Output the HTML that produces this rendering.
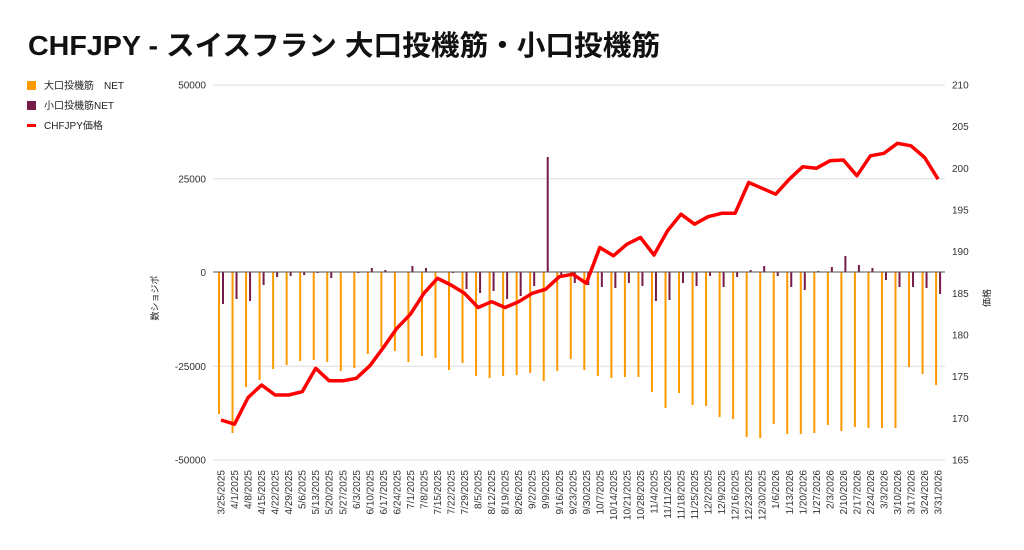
<!DOCTYPE html>
<html><head><meta charset="utf-8"><style>
body{margin:0;background:#fff;width:1024px;height:545px;overflow:hidden;font-family:"Liberation Sans","Noto Sans CJK JP",sans-serif}
</style></head><body>
<svg id="s" width="1024" height="545" xmlns="http://www.w3.org/2000/svg" font-family="Liberation Sans, Noto Sans CJK JP, sans-serif">
<text x="28" y="55" font-size="28" font-weight="bold" fill="#111" textLength="632" lengthAdjust="spacingAndGlyphs">CHFJPY - スイスフラン 大口投機筋・小口投機筋</text>
<rect x="27" y="81" width="9" height="9" fill="#ff9900"/><text x="44" y="89" font-size="10" fill="#222">大口投機筋　NET</text>
<rect x="27" y="101" width="9" height="9" fill="#741b47"/><text x="44" y="109" font-size="10" fill="#222">小口投機筋NET</text>
<rect x="27" y="124" width="9" height="3" fill="#ff0000"/><text x="44" y="129" font-size="10" fill="#222">CHFJPY価格</text>
<text transform="translate(158,298) rotate(-90)" font-size="9" fill="#222" text-anchor="middle">数ショジポ</text>
<text transform="translate(990,298) rotate(-90)" font-size="9" fill="#222" text-anchor="middle">価格</text>
</svg>
<script>
var s=document.getElementById('s'),NS='http://www.w3.org/2000/svg';
function el(t,a,txt){var e=document.createElementNS(NS,t);for(var k in a)e.setAttribute(k,a[k]);if(txt!=null)e.textContent=txt;s.appendChild(e);return e;}
var L=[50000,25000,0,-25000,-50000],R=[210,205,200,195,190,185,180,175,170,165];
L.forEach(function(v,i){var y=85+i*93.75;if(v!==0)el('line',{x1:213,x2:945,y1:y,y2:y,stroke:'#ddd','stroke-width':1});el('text',{x:206,y:y+3.5,'font-size':10,'text-anchor':'end',fill:'#333'},v);});
R.forEach(function(v,i){el('text',{x:952,y:85+i*41.67+3.5,'font-size':10,fill:'#333'},v);});
var d=['3/25/2025','4/1/2025','4/8/2025','4/15/2025','4/22/2025','4/29/2025','5/6/2025','5/13/2025','5/20/2025','5/27/2025','6/3/2025','6/10/2025','6/17/2025','6/24/2025','7/1/2025','7/8/2025','7/15/2025','7/22/2025','7/29/2025','8/5/2025','8/12/2025','8/19/2025','8/26/2025','9/2/2025','9/9/2025','9/16/2025','9/23/2025','9/30/2025','10/7/2025','10/14/2025','10/21/2025','10/28/2025','11/4/2025','11/11/2025','11/18/2025','11/25/2025','12/2/2025','12/9/2025','12/16/2025','12/23/2025','12/30/2025','1/6/2026','1/13/2026','1/20/2026','1/27/2026','2/3/2026','2/10/2026','2/17/2026','2/24/2026','3/3/2026','3/10/2026','3/17/2026','3/24/2026','3/31/2026'];
var o=[414,433,387,380,369,365,361,360,362,371,368,354,347,351,362,356,358,370,363,376,378,376,375,373,381,371,359,370,376,378,377,377,392,408,393,405,406,417,419,437,438,424,434,434,433,425,431,427,428,428,428,367,374,385];
var p=[304,299,301,285,277,276,275,273,278,272,273,268,270,272,266,268,272,273,289,293,291,299,296,286,157,276,283,285,287,288,283,286,301,300,283,286,276,287,277,270,266,276,287,290,271,267,256,265,268,280,287,287,288,294];
var pr=[169.8,169.3,172.5,174,172.8,172.8,173.2,176,174.5,174.5,174.8,176.3,178.5,180.8,182.5,185,186.8,186,185,183.3,184,183.3,184,185,185.5,187,187.3,186.2,190.5,189.5,190.9,191.7,189.6,192.5,194.5,193.3,194.2,194.6,194.6,198.3,197.6,196.9,198.7,200.2,200,200.9,201,199.1,201.5,201.8,203,202.7,201.3,198.7];
var pts=[];
for(var i=0;i<54;i++){var x=221+i*13.53;
el('line',{x1:x-2,x2:x-2,y1:272,y2:o[i],stroke:'#ff9900','stroke-width':2});
el('line',{x1:x+2,x2:x+2,y1:272,y2:p[i],stroke:'#741b47','stroke-width':2});
pts.push((x).toFixed(1)+','+(85+(210-pr[i])*8.333).toFixed(1));
el('text',{transform:'translate('+(x+3.5)+',470) rotate(-90)','font-size':10,'text-anchor':'end',fill:'#333'},d[i]);}
el('line',{x1:213,x2:945,y1:272,y2:272,stroke:'#555','stroke-width':1});
el('polyline',{points:pts.join(' '),fill:'none',stroke:'#ff0000','stroke-width':3.5,'stroke-linejoin':'round'});
</script>
</body></html>
